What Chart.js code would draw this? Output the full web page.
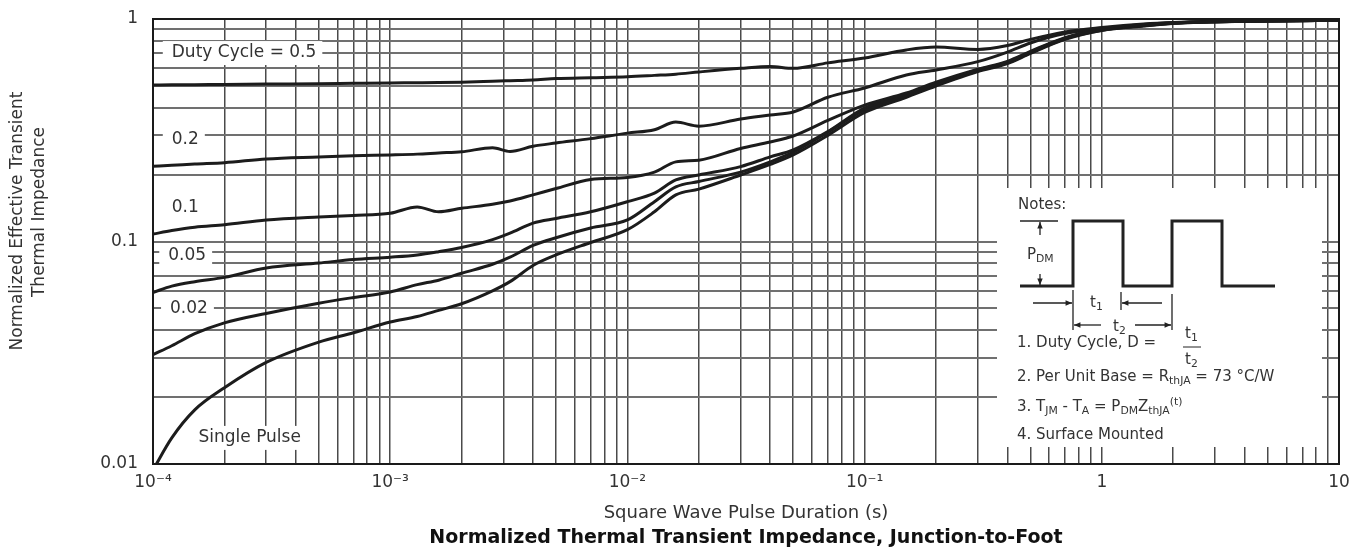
<!DOCTYPE html>
<html>
<head>
<meta charset="utf-8">
<script src="https://cdn.jsdelivr.net/npm/chart.js@4.4.1/dist/chart.umd.min.js"></script>
<style>
  html, body { margin: 0; padding: 0; background: #fff; }
</style>
</head>
<body>
<canvas id="chartZth" width="1365" height="560"></canvas>
<script>
// pulse duration (s) shared by all curves
const pulseDuration = [1e-4, 1.2e-4, 1.5e-4, 2e-4, 3e-4, 5e-4, 7e-4, 1e-3, 1.3e-3, 1.6e-3, 2e-3, 2.7e-3, 3.2e-3, 4e-3, 5e-3, 7e-3,
  1e-2, 1.3e-2, 1.6e-2, 2e-2, 3e-2, 4e-2, 5e-2, 7e-2, 0.1, 0.15, 0.2, 0.3, 0.4, 0.5, 0.7, 1, 1.5, 2, 3, 5, 10];

const duty05 = [0.505, 0.506, 0.507, 0.508, 0.51, 0.512, 0.514, 0.516, 0.517, 0.518, 0.52, 0.525, 0.528, 0.532, 0.54, 0.545,
  0.55, 0.558, 0.565, 0.578, 0.60, 0.612, 0.60, 0.635, 0.668, 0.726, 0.748, 0.73, 0.76, 0.81, 0.875, 0.915, 0.95, 0.965, 0.975, 0.982, 0.985];
const duty02 = [0.218, 0.220, 0.223, 0.226, 0.235, 0.240, 0.243, 0.245, 0.247, 0.250, 0.253, 0.264, 0.254, 0.268, 0.277, 0.290,
  0.307, 0.318, 0.344, 0.330, 0.355, 0.370, 0.382, 0.445, 0.490, 0.560, 0.590, 0.643, 0.710, 0.780, 0.860, 0.905, 0.945, 0.962, 0.974, 0.981, 0.985];
const duty01 = [0.108, 0.112, 0.116, 0.119, 0.125, 0.129, 0.131, 0.134, 0.143, 0.136, 0.141, 0.147, 0.152, 0.162, 0.173, 0.190,
  0.194, 0.205, 0.228, 0.232, 0.262, 0.280, 0.298, 0.350, 0.410, 0.465, 0.520, 0.595, 0.645, 0.715, 0.825, 0.900, 0.940, 0.960, 0.973, 0.980, 0.985];
const duty005 = [0.059, 0.063, 0.066, 0.069, 0.076, 0.080, 0.083, 0.085, 0.087, 0.090, 0.094, 0.102, 0.109, 0.121, 0.127, 0.136,
  0.151, 0.165, 0.189, 0.199, 0.217, 0.240, 0.258, 0.312, 0.398, 0.455, 0.510, 0.590, 0.640, 0.710, 0.820, 0.895, 0.935, 0.958, 0.972, 0.980, 0.985];
const duty002 = [0.031, 0.034, 0.0385, 0.0431, 0.0475, 0.0528, 0.056, 0.0593, 0.064, 0.067, 0.072, 0.079, 0.085, 0.096, 0.104, 0.115,
  0.125, 0.151, 0.176, 0.186, 0.205, 0.228, 0.252, 0.310, 0.390, 0.450, 0.505, 0.585, 0.635, 0.705, 0.815, 0.890, 0.933, 0.957, 0.971, 0.980, 0.985];
const singlePulse = [0.0094, 0.0131, 0.0175, 0.022, 0.0286, 0.0353, 0.0389, 0.0435, 0.046, 0.049, 0.0525, 0.060, 0.066, 0.078, 0.087, 0.099,
  0.113, 0.136, 0.162, 0.172, 0.199, 0.222, 0.245, 0.300, 0.380, 0.445, 0.500, 0.580, 0.630, 0.700, 0.810, 0.888, 0.930, 0.955, 0.970, 0.979, 0.985];

const seriesNames = ['Duty Cycle = 0.5', '0.2', '0.1', '0.05', '0.02', 'Single Pulse'];
const seriesValues = [duty05, duty02, duty01, duty005, duty002, singlePulse];

const xDecades = [1e-4, 1e-3, 1e-2, 1e-1, 1, 10];
const xTickLabels = ['10⁻⁴', '10⁻³', '10⁻²', '10⁻¹', '1', '10'];
const yDecades = [0.01, 0.1, 1];
const yTickLabels = ['0.01', '0.1', '1'];

const xTitle = 'Square Wave Pulse Duration (s)';
const yTitle = ['Normalized Effective Transient', 'Thermal Impedance'];
const chartTitle = 'Normalized Thermal Transient Impedance, Junction-to-Foot';

const FONT = '"DejaVu Sans", sans-serif';
Chart.defaults.font.family = FONT;

// 1..9 x each decade, used for the grid
function gridValues(decades) {
  const out = [];
  decades.forEach((d, i) => {
    if (i === decades.length - 1) { out.push(d); return; }
    for (let k = 1; k <= 9; k++) out.push(k * d);
  });
  return out;
}

function labelFor(v, decades, labels) {
  const i = decades.findIndex(d => Math.abs(v - d) / d < 1e-6);
  return i < 0 ? '' : labels[i];
}

function arrow(ctx, x1, y1, x2, y2) {
  const ang = Math.atan2(y2 - y1, x2 - x1), h = 7;
  ctx.beginPath(); ctx.moveTo(x1, y1); ctx.lineTo(x2, y2); ctx.stroke();
  ctx.beginPath(); ctx.moveTo(x2, y2);
  ctx.lineTo(x2 - h * Math.cos(ang - 0.4), y2 - h * Math.sin(ang - 0.4));
  ctx.lineTo(x2 - h * Math.cos(ang + 0.4), y2 - h * Math.sin(ang + 0.4));
  ctx.closePath(); ctx.fill();
}

// text with sub/superscript parts
function runText(ctx, x, y, parts, size) {
  parts.forEach(([t, m]) => {
    const s = m ? size * 0.72 : size;
    ctx.font = s + 'px ' + FONT;
    const dy = m === 'sub' ? size * 0.3 : (m === 'sup' ? -size * 0.35 : 0);
    ctx.fillText(t, x, y + dy);
    x += ctx.measureText(t).width;
  });
  return x;
}

// where the curve names sit (data coords)
const labelAnchors = [[1.2e-4, 0.703], [1.2e-4, 0.286], [1.2e-4, 0.1414], [1.16e-4, 0.0861], [1.18e-4, 0.0502], [1.555e-4, 0.0131]];

const notesPlugin = {
  id: 'notes',
  beforeDatasetsDraw(chart) {
    const { ctx, chartArea: a, scales: { x, y } } = chart;
    ctx.save();
    ctx.fillStyle = '#fff';
    ctx.font = '17px ' + FONT;
    seriesNames.forEach((name, i) => {
      const px = x.getPixelForValue(labelAnchors[i][0]);
      const py = y.getPixelForValue(labelAnchors[i][1]);
      const w = ctx.measureText(name).width;
      ctx.fillRect(Math.max(px - 9, a.left + 6), py - 12, w + 15, 24);
    });
    ctx.fillRect(a.right - 342, a.top + 169, 325, 259);
    ctx.restore();
  },
  afterDatasetsDraw(chart) {
    const { ctx, chartArea: a, scales: { x, y } } = chart;
    ctx.save();
    ctx.fillStyle = '#333';
    ctx.textBaseline = 'middle';
    ctx.textAlign = 'left';
    ctx.font = '17px ' + FONT;
    seriesNames.forEach((name, i) => {
      ctx.fillText(name, x.getPixelForValue(labelAnchors[i][0]), y.getPixelForValue(labelAnchors[i][1]));
    });

    // y axis title, two rotated lines
    ctx.save();
    ctx.textAlign = 'center';
    ctx.translate(18, a.top + 202);
    ctx.rotate(-Math.PI / 2);
    ctx.fillText(yTitle[0], 0, 0);
    ctx.fillText(yTitle[1], 9, 22);
    ctx.restore();

    // notes box
    const ox = a.right - 342, oy = a.top + 169, fs = 15;
    const top = oy + 33, base = oy + 98;
    ctx.fillStyle = '#333';
    ctx.font = fs + 'px ' + FONT;
    ctx.fillText('Notes:', ox + 21, oy + 17);

    ctx.strokeStyle = '#222';
    ctx.lineWidth = 3;
    ctx.lineJoin = 'miter';
    ctx.beginPath();
    ctx.moveTo(ox + 23, base);
    ctx.lineTo(ox + 76, base); ctx.lineTo(ox + 76, top);
    ctx.lineTo(ox + 126, top); ctx.lineTo(ox + 126, base);
    ctx.lineTo(ox + 175, base); ctx.lineTo(ox + 175, top);
    ctx.lineTo(ox + 225, top); ctx.lineTo(ox + 225, base);
    ctx.lineTo(ox + 278, base);
    ctx.stroke();

    ctx.lineWidth = 1.3;
    ctx.fillStyle = '#222';
    ctx.beginPath(); ctx.moveTo(ox + 23, top); ctx.lineTo(ox + 61, top); ctx.stroke();
    arrow(ctx, ox + 43, oy + 47, ox + 43, top + 1);
    arrow(ctx, ox + 43, oy + 86, ox + 43, base - 1);
    ctx.fillStyle = '#333';
    runText(ctx, ox + 30, oy + 67, [['P', ''], ['DM', 'sub']], fs);

    // t1 / t2 dimension marks
    ctx.fillStyle = '#222';
    const r1 = oy + 115, r2 = oy + 137;
    ctx.beginPath();
    ctx.moveTo(ox + 76, oy + 102); ctx.lineTo(ox + 76, oy + 142);
    ctx.moveTo(ox + 124, oy + 104); ctx.lineTo(ox + 124, oy + 122);
    ctx.moveTo(ox + 175, oy + 106); ctx.lineTo(ox + 175, oy + 142);
    ctx.stroke();
    arrow(ctx, ox + 36, r1, ox + 75, r1);
    arrow(ctx, ox + 165, r1, ox + 125, r1);
    arrow(ctx, ox + 104, r2, ox + 77, r2);
    arrow(ctx, ox + 138, r2, ox + 174, r2);
    ctx.fillStyle = '#333';
    runText(ctx, ox + 93, r1, [['t', ''], ['1', 'sub']], fs);
    runText(ctx, ox + 116, r2 + 2, [['t', ''], ['2', 'sub']], fs);

    // numbered notes
    const lx = ox + 20;
    runText(ctx, lx, oy + 155, [['1. Duty Cycle, D =', '']], fs);
    runText(ctx, ox + 188, oy + 146, [['t', ''], ['1', 'sub']], fs);
    runText(ctx, ox + 188, oy + 172, [['t', ''], ['2', 'sub']], fs);
    ctx.lineWidth = 1;
    ctx.beginPath(); ctx.moveTo(ox + 186, oy + 159); ctx.lineTo(ox + 204, oy + 159); ctx.stroke();
    runText(ctx, lx, oy + 189, [['2. Per Unit Base = R', ''], ['thJA', 'sub'], [' = 73 °C/W', '']], fs);
    runText(ctx, lx, oy + 219, [['3. T', ''], ['JM', 'sub'], [' - T', ''], ['A', 'sub'], [' = P', ''], ['DM', 'sub'],
      ['Z', ''], ['thJA', 'sub'], ['(t)', 'sup']], fs);
    runText(ctx, lx, oy + 247, [['4. Surface Mounted', '']], fs);

    // plot frame
    ctx.strokeStyle = '#1a1a1a';
    ctx.lineWidth = 2;
    ctx.strokeRect(a.left, a.top, a.right - a.left, a.bottom - a.top);
    ctx.restore();
  }
};

const xGrid = gridValues(xDecades);
const yGrid = gridValues(yDecades);

const ctx = document.getElementById('chartZth');

new Chart(ctx, {
  type: 'line',
  data: {
    datasets: seriesNames.map((name, i) => ({
      label: name,
      data: pulseDuration.map((t, j) => ({ x: t, y: seriesValues[i][j] })),
      borderColor: '#1c1c1c',
      borderWidth: 3,
      pointRadius: 0,
      cubicInterpolationMode: 'monotone',
      fill: false
    }))
  },
  options: {
    responsive: false,
    animation: false,
    layout: { padding: { top: 19, right: 26, left: 0, bottom: 0 } },
    plugins: {
      legend: { display: false },
      tooltip: { enabled: false },
      title: {
        display: true,
        text: chartTitle,
        position: 'bottom',
        fullSize: false,
        color: '#111',
        font: { size: 19, weight: 'bold' },
        padding: { top: 0, bottom: 11 }
      }
    },
    scales: {
      x: {
        type: 'logarithmic',
        min: 1e-4,
        max: 10,
        afterBuildTicks: s => { s.ticks = xGrid.map(v => ({ value: v })); },
        afterFit: s => { s.height = 62.2; },
        grid: { color: '#4a4a4a', lineWidth: 1.5, drawTicks: false },
        border: { display: false },
        ticks: {
          autoSkip: false, maxRotation: 0, padding: 8, color: '#333',
          font: { size: 17 },
          callback: v => labelFor(v, xDecades, xTickLabels)
        },
        title: { display: true, text: xTitle, color: '#333', font: { size: 18 }, padding: { top: 0, bottom: 2 } }
      },
      y: {
        type: 'logarithmic',
        min: 0.01,
        max: 1,
        afterBuildTicks: s => { s.ticks = yGrid.map(v => ({ value: v })); },
        afterFit: s => { s.width = 153; s.paddingTop = 8; s.paddingBottom = 8; },
        grid: { color: '#707070', lineWidth: 2, drawTicks: false },
        border: { display: false },
        ticks: {
          autoSkip: false, padding: 15, color: '#333',
          font: { size: 17 },
          callback: v => labelFor(v, yDecades, yTickLabels)
        },
        title: { display: false }
      }
    }
  },
  plugins: [notesPlugin]
});
</script>
</body>
</html>
